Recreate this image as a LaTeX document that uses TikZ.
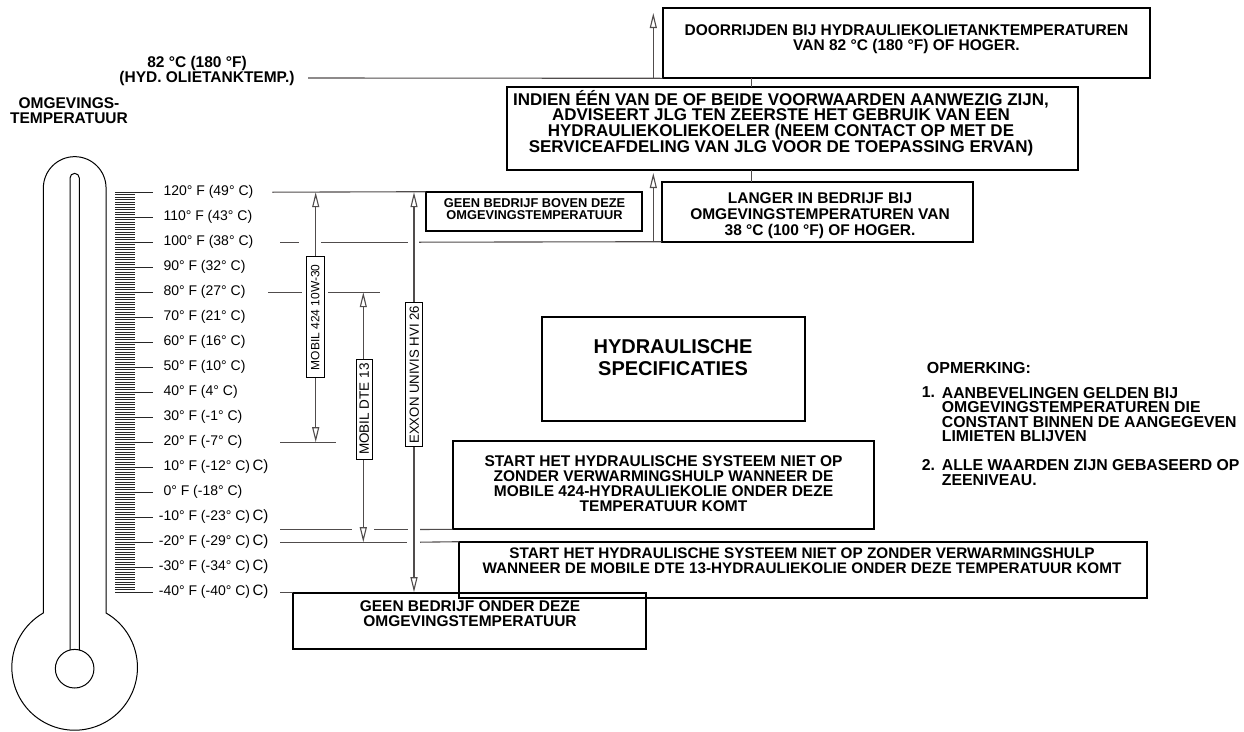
\documentclass[tikz,border=0pt]{standalone}
\usepackage{fontspec}
\setmainfont{Liberation Sans}
\usetikzlibrary{arrows.meta}
\definecolor{lg}{RGB}{80,76,76}
\begin{document}
\begin{tikzpicture}[x=1pt,y=-1pt,
  conn/.style={draw=lg,line width=1.1pt},
  uarr/.style={conn,-{Triangle[open,length=15pt,width=7pt]}},
  darr/.style={conn,{Triangle[open,length=15pt,width=7pt]}-{Triangle[open,length=15pt,width=7pt]}},
  bx/.style={draw=black,line width=1.8pt,inner sep=0pt,outer sep=0pt},
  bt/.style={font=\fontsize{15.5}{15}\selectfont\bfseries,align=center,inner sep=0pt},
  nt/.style={font=\fontsize{15.8}{14.5}\selectfont\bfseries,align=left,inner sep=0pt,anchor=west},
  rl/.style={draw=black,line width=0.9pt,fill=white,rotate=90,inner sep=0pt},
  tl/.style={font=\fontsize{14}{14}\selectfont,anchor=west,inner sep=0pt},
  th/.style={draw=black,line width=1pt},
  tick/.style={draw=black!85,line width=0.9pt}
]
\useasboundingbox (0,0) rectangle (1244,731);

% ---------- thermometer ----------
\draw[th] (43.35,613) -- (43.35,188) arc[start angle=180,end angle=360,radius=31.35]
  -- (106.05,613) arc[start angle=-60,end angle=240,radius=62.8];
\draw[th] (70,650) -- (70,178) arc[start angle=180,end angle=360,radius=4.65] -- (79.3,650);
\draw[th] (74.65,668.7) circle[radius=19.3];

\foreach \k in {0,...,160} \draw[tick] (115,{192.2+2.5*\k}) -- (135,{192.2+2.5*\k});
\foreach \k in {0,...,16} \draw[tick] (115,{192.2+25*\k}) -- (153,{192.2+25*\k});

\foreach \s [count=\i from 0] in {{120° F (49° C)},{110° F (43° C)},{100° F (38° C)},{90° F (32° C)},{80° F (27° C)},{70° F (21° C)},{60° F (16° C)},{50° F (10° C)},{40° F (4° C)},{30° F (-1° C)},{20° F (-7° C)},{10° F (-12° C)},{0° F (-18° C)},{\llap{-}10° F (-23° C)},{\llap{-}20° F (-29° C)},{\llap{-}30° F (-34° C)},{\llap{-}40° F (-40° C)}}
  \node[tl] (T\i) at (163.3,{192.2+25*\i}) {\s};
\foreach \i in {11,13,14,15,16}
  \node[tl,font=\fontsize{15}{15}\selectfont] (X\i) at (252.3,{191.6+25*\i}) {C)};

\node[bt] (title) at (69,111) {OMGEVINGS-\\TEMPERATUUR};

% ---------- boxes ----------
\node[bx,minimum width=487.6,minimum height=70] (doorr) at (906.5,43.3) {};
\node[bt] (doorrT) at (906.5,39.2) {DOORRIJDEN BIJ HYDRAULIEKOLIETANKTEMPERATUREN\\VAN 82 °C (180 °F) OF HOGER.};

\node[bx,minimum width=571,minimum height=82.7] (indien) at (792.2,128.65) {};
\node[bt,font=\fontsize{17}{15.5}\selectfont\bfseries] (indienT) at (781,123.3) {INDIEN ÉÉN VAN DE OF BEIDE VOORWAARDEN AANWEZIG ZIJN,\\ADVISEERT JLG TEN ZEERSTE HET GEBRUIK VAN EEN\\HYDRAULIEKOLIEKOELER (NEEM CONTACT OP MET DE\\SERVICEAFDELING VAN JLG VOOR DE TOEPASSING ERVAN)};

\node[bx,minimum width=311.6,minimum height=60] (langer) at (817.5,211.7) {};
\node[bt,font=\fontsize{15.5}{16.2}\selectfont\bfseries] (langerT) at (820,215.7) {LANGER IN BEDRIJF BIJ\\OMGEVINGSTEMPERATUREN VAN\\38 °C (100 °F) OF HOGER.};

\node[bx,minimum width=216.6,minimum height=39.3] (boven) at (534,211.35) {};
\node[bt,font=\fontsize{12.8}{12.3}\selectfont\bfseries] (bovenT) at (534.5,209) {GEEN BEDRIJF BOVEN DEZE\\OMGEVINGSTEMPERATUUR};

\node[bx,minimum width=263.3,minimum height=104] (hyd) at (673.35,368.7) {};
\node[bt,font=\fontsize{20}{21.6}\selectfont\bfseries] (hydT) at (673,357.5) {HYDRAULISCHE\\SPECIFICATIES};

\node[bx,minimum width=421.6,minimum height=88.6] (s424) at (663.5,485) {};
\node[bt] (s424T) at (663.5,483.5) {START HET HYDRAULISCHE SYSTEEM NIET OP\\ZONDER VERWARMINGSHULP WANNEER DE\\MOBILE 424-HYDRAULIEKOLIE ONDER DEZE\\TEMPERATUUR KOMT};

\node[bx,minimum width=688.3,minimum height=56.6] (dte) at (803.15,570) {};
\node[bt,font=\fontsize{15.3}{15}\selectfont\bfseries] (dteT) at (802,560.8) {START HET HYDRAULISCHE SYSTEEM NIET OP ZONDER VERWARMINGSHULP\\WANNEER DE MOBILE DTE 13-HYDRAULIEKOLIE ONDER DEZE TEMPERATUUR KOMT};

\node[bx,minimum width=352.7,minimum height=56.6] (onder) at (469.65,621) {};
\node[bt] (onderT) at (470,613.4) {GEEN BEDRIJF ONDER DEZE\\OMGEVINGSTEMPERATUUR};

% ---------- 82 C label and top arrows ----------
\node[bt] (hyd1) at (197,63) {82 °C (180 °F)};
\node[bt] (hyd2) at (207,78) {(HYD. OLIETANKTEMP.)};
\coordinate (c82) at (308,78);
\draw[conn] (c82) -- (doorr.south west);
\coordinate (a1s) at (653.3,78);
\coordinate (a1e) at (653.3,13);
\draw[uarr] (a1s) -- (a1e);
\coordinate (a2s) at (653.3,242.2);
\coordinate (a2e) at (653.3,173);
\draw[uarr] (a2s) -- (a2e);
\coordinate (cx) at (751.7,0);
\draw[conn] (doorr.south -| cx) -- (indien.north -| cx);
\draw[conn] (indien.south -| cx) -- (langer.north -| cx);

% ---------- level lines ----------
\coordinate (l120) at (272.3,192.2);
\draw[conn] (l120) -- (boven.north west);
\coordinate (l100a) at (280,242.2); \coordinate (l100b) at (299,242.2);
\coordinate (l100c) at (321,242.2); \coordinate (l100d) at (408,242.2);
\coordinate (l100e) at (419,242.2);
\draw[conn] (l100a) -- (l100b);
\draw[conn] (l100c) -- (l100d);
\draw[conn] (l100e) -- (langer.south west);
\coordinate (l80a) at (268,292.2); \coordinate (l80b) at (302,292.2);
\coordinate (l80c) at (328,292.2); \coordinate (l80d) at (380,292.2);
\draw[conn] (l80a) -- (l80b);
\draw[conn] (l80c) -- (l80d);
\coordinate (l20a) at (280,442.2); \coordinate (l20b) at (336,442.2);
\draw[conn] (l20a) -- (l20b);
\coordinate (l15a) at (280,529.5); \coordinate (l15b) at (351.7,529.5);
\coordinate (l15c) at (374,529.5); \coordinate (l15d) at (408.3,529.5);
\coordinate (l15e) at (420,529.5);
\draw[conn] (l15a) -- (l15b);
\draw[conn] (l15c) -- (l15d);
\draw[conn] (l15e) -- (s424.south west);
\coordinate (lm20a) at (280,542.2); \coordinate (lm20b) at (407.3,542.2);
\coordinate (lm20c) at (420,542.2);
\draw[conn] (lm20a) -- (lm20b);
\draw[conn] (lm20c) -- (dte.north west);
\coordinate (lm40) at (280,592.7);
\draw[conn] (lm40) -- (onder.north west);

% ---------- oil range arrows ----------
\coordinate (m424t) at (315.7,192.2); \coordinate (m424b) at (315.7,442.2);
\draw[darr] (m424t) -- (m424b);
\node[rl,minimum width=121,minimum height=17.3,font=\fontsize{12}{12}\selectfont] (m424) at (315.3,317.3) {MOBIL 424 10W-30};
\coordinate (dtet) at (363.3,292.2); \coordinate (dteb) at (363.3,542.2);
\draw[darr] (dtet) -- (dteb);
\node[rl,minimum width=100.3,minimum height=16.7,font=\fontsize{13.5}{13.5}\selectfont] (mdte) at (364.3,409.2) {MOBIL DTE 13};
\coordinate (exxt) at (414,192.2); \coordinate (exxb) at (414,592.2);
\draw[darr] (exxt) -- (exxb);
\node[rl,minimum width=144,minimum height=17,font=\fontsize{13.2}{13.2}\selectfont] (exx) at (414.2,374.7) {EXXON UNIVIS HVI 26};

% ---------- notes ----------
\node[nt,font=\fontsize{16}{14.5}\selectfont\bfseries] (opm) at (926.7,368) {OPMERKING:};
\node[nt] (n1) at (921.7,392.5) {1.};
\node[nt] (n1t) at (941.7,414.5) {AANBEVELINGEN GELDEN BIJ\\OMGEVINGSTEMPERATUREN DIE\\CONSTANT BINNEN DE AANGEGEVEN\\LIMIETEN BLIJVEN};
\node[nt] (n2) at (921.7,465) {2.};
\node[nt] (n2t) at (941.7,472.5) {ALLE WAARDEN ZIJN GEBASEERD OP\\ZEENIVEAU.};
\end{tikzpicture}
\end{document}
